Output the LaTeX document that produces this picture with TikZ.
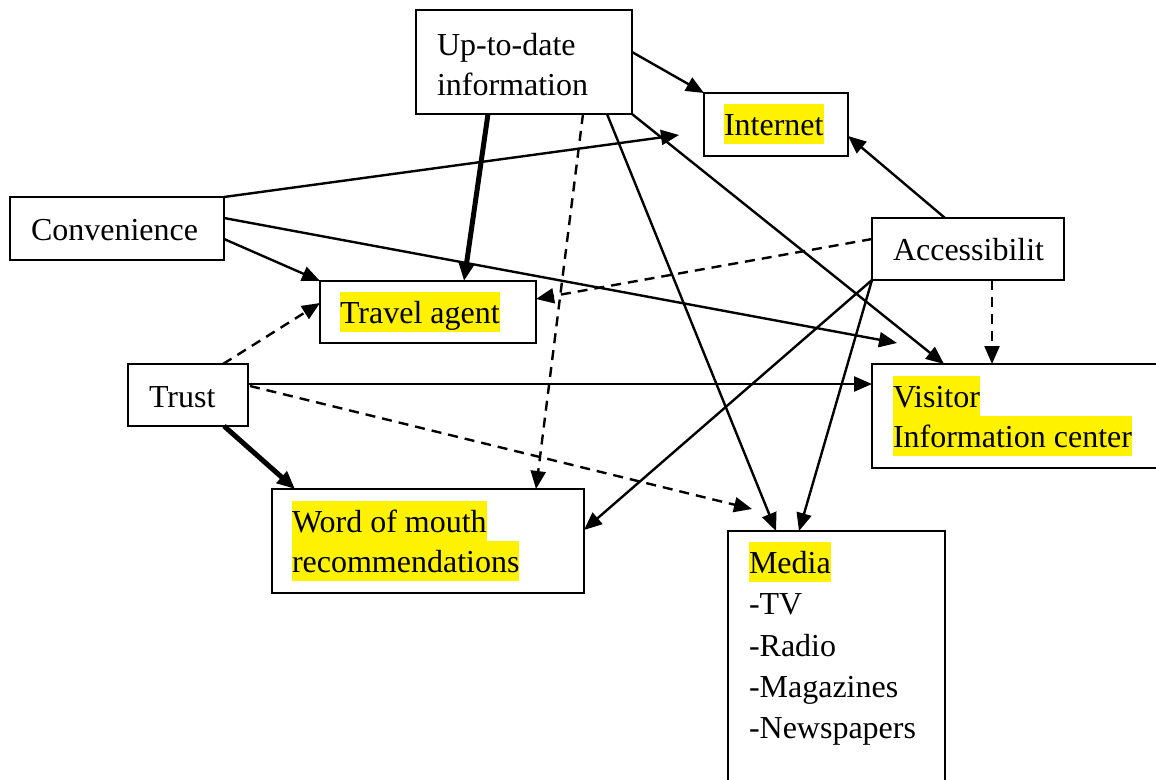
\documentclass[tikz,border=0pt]{standalone}
\usepackage{fontspec}
\setmainfont{Liberation Serif}
\usetikzlibrary{arrows.meta,calc}
\newcommand{\hlt}[1]{{\setlength{\fboxsep}{0pt}\colorbox{yellow}{\rule[-8.5pt]{0pt}{39.5pt}#1}}}
\tikzset{
  box/.style={draw=black, line width=2.5pt, inner sep=0pt, outer sep=0pt, fill=white},
  txt/.style={inner sep=0pt, outer sep=0pt, anchor=base west, font=\fontsize{32pt}{41pt}\selectfont},
  conn/.style={line width=2.4pt, -{Triangle[length=18pt,width=15pt]}},
  thickconn/.style={line width=5pt, -{Triangle[length=18pt,width=15pt]}},
  dashconn/.style={conn, dash pattern=on 10pt off 7pt},
}
\begin{document}
\begin{tikzpicture}[x=1pt,y=-1pt]
\fill[white] (0,0) rectangle (1156,779);
\useasboundingbox (0,0) rectangle (1156,779);
% boxes
\node[box, minimum width=216pt, minimum height=104pt] (upd) at (524,62) {};
\node[box, minimum width=144pt, minimum height=63pt] (inet) at (776,124.5) {};
\node[box, minimum width=214pt, minimum height=63pt] (conv) at (117,228.5) {};
\node[box, minimum width=216pt, minimum height=62pt] (travel) at (428,312) {};
\node[box, minimum width=192pt, minimum height=62pt] (acc) at (968,249) {};
\node[box, minimum width=120pt, minimum height=62pt] (trust) at (188,395) {};
\node[box, minimum width=328pt, minimum height=104pt] (visitor) at (1036,416) {};
\node[box, minimum width=312pt, minimum height=104pt] (wom) at (428,541) {};
\node[box, minimum width=217pt, minimum height=269pt] (media) at (836.5,665.5) {};
% texts
\node[txt] (tupd1) at (437,55) {Up-to-date};
\node[txt] (tupd2) at (437,95) {information};
\node[txt] (tinet) at (724,135) {\hlt{Internet}};
\node[txt] (tconv) at (31,240) {Convenience};
\node[txt] (ttravel) at (340,323) {\hlt{Travel agent}};
\node[txt] (tacc) at (893,260) {Accessibilit};
\node[txt] (ttrust) at (149,407) {Trust};
\node[txt] (tvis1) at (893,407) {\hlt{Visitor}};
\node[txt] (tvis2) at (893,447) {\hlt{Information center}};
\node[txt] (twom1) at (292,532) {\hlt{Word of mouth}};
\node[txt] (twom2) at (292,572) {\hlt{recommendations}};
\node[txt] (tmed1) at (749,573) {\hlt{Media}};
\node[txt] (tmed2) at (749,614) {-TV};
\node[txt] (tmed3) at (749,656) {-Radio};
\node[txt] (tmed4) at (749,697) {-Magazines};
\node[txt] (tmed5) at (749,738) {-Newspapers};
% free ends
\coordinate (convInetEnd) at (679,135);
\coordinate (convVisEnd) at (897,343);
\coordinate (trustMediaEnd) at (752,509);
% connectors from Up-to-date information
\draw[conn] ($(upd.north east)+(0,42)$) -- (inet.north west);
\draw[thickconn] ($(upd.south west)+(72,0)$) -- ($(travel.north west)+(144,0)$);
\draw[dashconn] ($(upd.south west)+(167,0)$) -- ($(wom.north west)+(264,0)$);
\draw[conn] ($(upd.south west)+(191,0)$) -- ($(media.north west)+(48,0)$);
\draw[conn] (upd.south east) -- ($(visitor.north west)+(72,0)$);
% from Convenience
\draw[conn] (conv.north east) -- (convInetEnd);
\draw[conn] ($(conv.north east)+(0,21)$) -- (convVisEnd);
\draw[conn] ($(conv.north east)+(0,42)$) -- (travel.north west);
% from Accessibilit
\draw[conn] ($(acc.north west)+(73,0)$) -- ($(inet.north east)+(0,43)$);
\draw[dashconn] ($(acc.north west)+(0,21)$) -- ($(travel.north east)+(0,18)$);
\draw[conn] (acc.south west) -- ($(wom.north east)+(0,41)$);
\draw[conn] (acc.south west) -- ($(media.north west)+(71,0)$);
\draw[dashconn] ($(acc.south west)+(120,0)$) -- ($(visitor.north west)+(120,0)$);
% from Trust
\draw[dashconn] ($(trust.north west)+(95,0)$) -- ($(travel.north west)+(0,22)$);
\draw[conn] ($(trust.north east)+(0,20)$) -- ($(visitor.north west)+(0,20)$);
\draw[dashconn] ($(trust.north east)+(2,22)$) -- (trustMediaEnd);
\draw[thickconn] ($(trust.south west)+(96,0)$) -- ($(wom.north west)+(23,0)$);
\end{tikzpicture}
\end{document}
